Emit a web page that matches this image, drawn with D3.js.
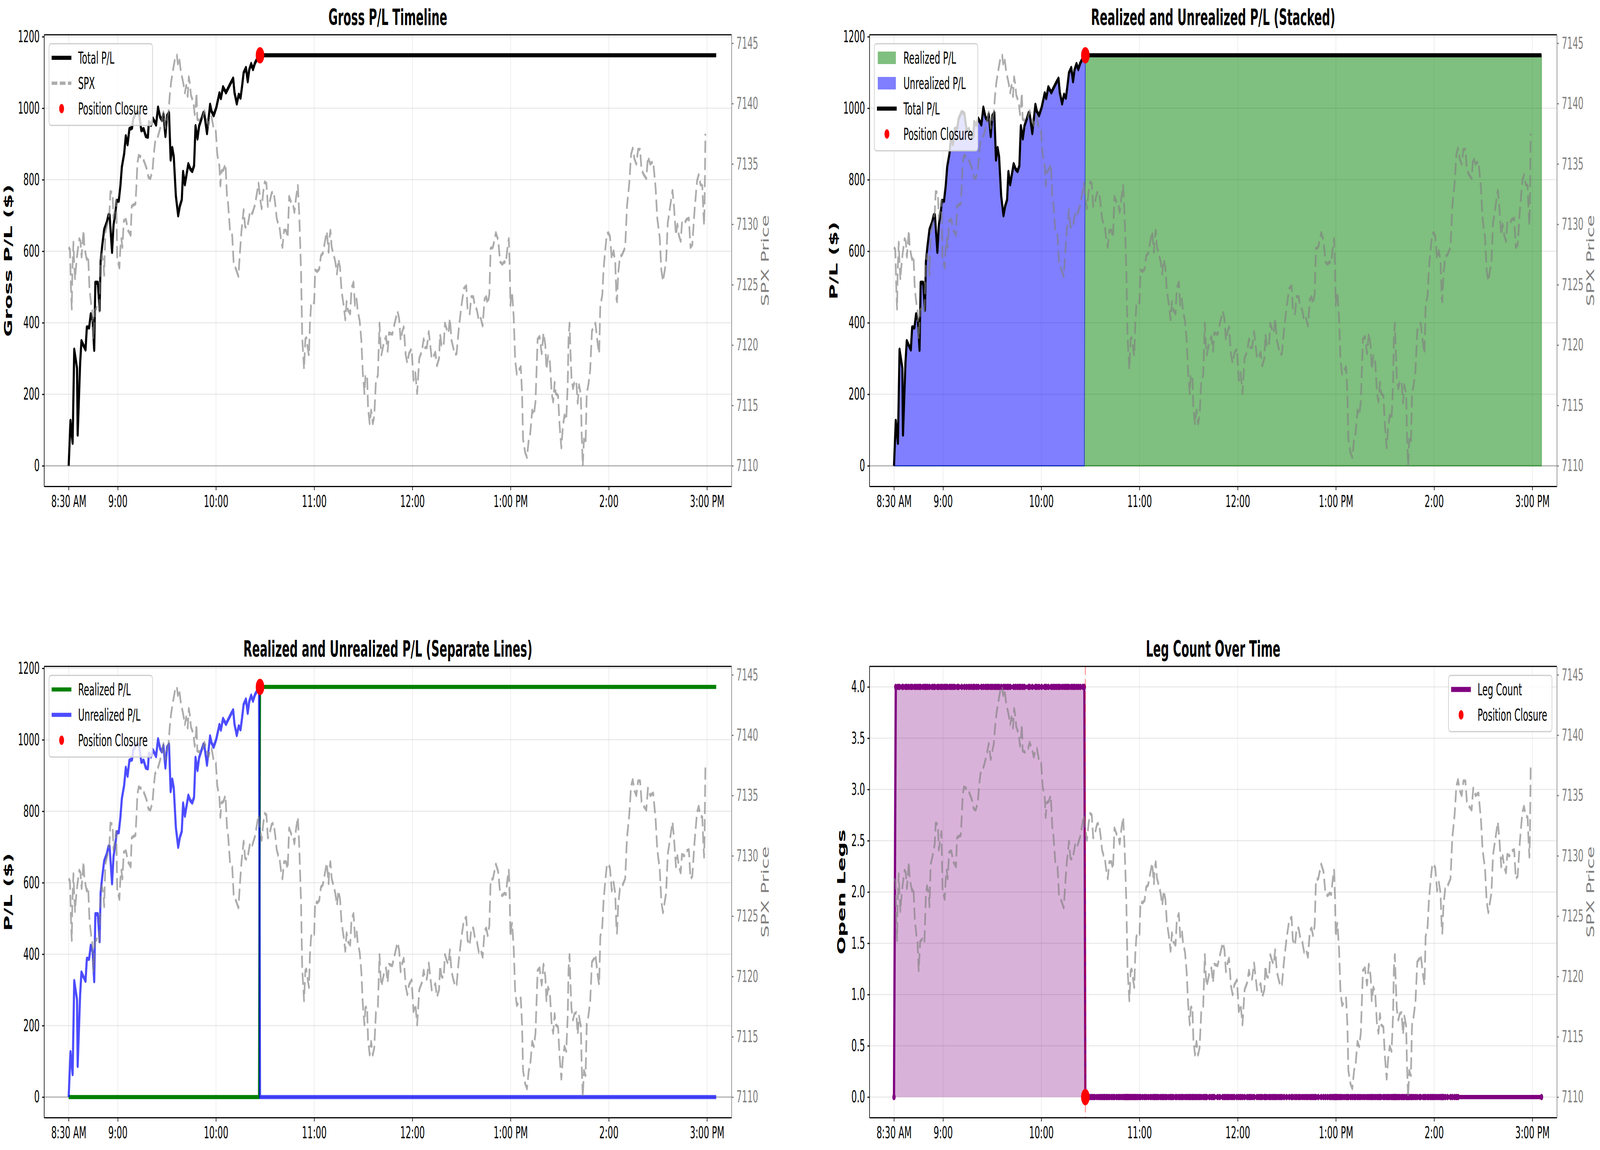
<!DOCTYPE html>
<html>
<head>
<meta charset="utf-8">
<script src="https://cdn.jsdelivr.net/npm/d3@7"></script>
<style>
  html, body { margin: 0; padding: 0; background: #fff; overflow: hidden; }
  svg { display: block; width: 100vw; height: 100vh; font-family: "DejaVu Sans", sans-serif; }
</style>
</head>
<body>
<svg id="chart" viewBox="0 0 7869 2944" preserveAspectRatio="none"></svg>
<script>
// all times are minutes after 8:30 AM
const tickMinutes = [0, 30, 90, 150, 210, 270, 330, 390];
const tickLabels = ["8:30 AM", "9:00", "10:00", "11:00", "12:00", "1:00 PM", "2:00", "3:00 PM"];
const plTicks = [0, 200, 400, 600, 800, 1000, 1200];
const spxTicks = [7110, 7115, 7120, 7125, 7130, 7135, 7140, 7145];
const legTicks = [0, 0.5, 1, 1.5, 2, 2.5, 3, 3.5, 4];

// P/L while the position is open
const openTimes = [0, 1.1, 2.4, 3.4, 5.1, 5.5, 7.0, 7.8, 9.0, 10.3,
  11.1, 12.5, 13.5, 14.6, 15.6, 16.3, 17.8, 18.9, 19.5, 20.5,
  21.7, 23.3, 24.3, 25.0, 26.5, 27.4, 28.7, 29.3, 30.6, 31.6,
  32.5, 33.9, 34.9, 36.0, 37.1, 38.7, 39.5, 41.4, 43.0, 44.4,
  45.8, 47.1, 48.4, 49.0, 50.3, 51.5, 53.4, 54.6, 55.9, 56.9,
  57.9, 59.1, 60.1, 61.3, 62.3, 63.3, 64.2, 65.5, 66.9, 67.9,
  69.1, 69.9, 71.0, 73.1, 74.3, 75.5, 76.6, 77.5, 78.7, 79.7,
  82.3, 82.9, 84.5, 86.4, 87.3, 88.6, 90.2, 92.1, 93.0, 94.3,
  96.1, 97.2, 98.3, 99.4, 100.5, 101.3, 102.7, 103.9, 105.0, 105.9,
  106.9, 108.3, 109.4, 110.3, 111.5, 112.6, 113.8, 115.4, 116.3];
const openTotals = [0, 126, 64, 325, 273, 87, 287, 349, 337, 325,
  387, 387, 424, 408, 324, 512, 512, 436, 571, 616,
  661, 681, 701, 701, 598, 673, 714, 741, 741, 783,
  836, 873, 922, 899, 942, 945, 971, 990, 985, 938,
  942, 922, 920, 962, 953, 971, 954, 1002, 975, 967,
  983, 922, 979, 987, 856, 889, 865, 754, 700, 726,
  744, 822, 787, 844, 830, 824, 839, 950, 915, 950,
  987, 983, 930, 1010, 991, 980, 1002, 1042, 1028, 1059,
  1044, 1054, 1064, 1074, 1083, 1044, 1013, 1038, 1029, 1060,
  1099, 1113, 1075, 1107, 1124, 1109, 1126, 1140, 1146];

const closeTime = 116.9;     // 10:27
const closedPL = 1148;
const denseEnd = 345;        // samples stop being dense around 2:15
const lastTime = 395.6;      // final sample, 3:05
const legsBeforeEntry = 0, legsHeld = 4, legsAfterClose = 0;

// SPX price
const spxTimes = [0, 0.8, 1.5, 1.9, 2.2, 2.9, 3.4, 3.9, 4.3, 5.3,
  6.5, 7.2, 7.9, 8.4, 9.1, 9.6, 11.0, 11.9, 12.7, 13.8,
  14.4, 15.1, 16.0, 17.3, 18.6, 19.5, 20.2, 21.2, 21.7, 22.4,
  23.6, 24.9, 25.5, 26.8, 27.4, 28.4, 29.0, 29.7, 30.3, 31.0,
  31.6, 32.2, 32.8, 33.7, 35.0, 36.3, 37.9, 38.5, 39.5, 40.8,
  41.4, 42.0, 42.8, 45.2, 46.4, 47.7, 48.7, 49.9, 51.2, 52.0,
  52.8, 54.1, 55.0, 56.0, 56.9, 57.9, 59.1, 60.1, 61.0, 61.7,
  62.6, 63.9, 65.1, 66.1, 66.7, 67.5, 68.6, 69.9, 71.0, 71.8,
  72.7, 73.4, 74.0, 74.7, 76.2, 77.0, 77.6, 78.1, 78.6, 80.0,
  81.9, 82.9, 84.2, 85.4, 86.4, 87.3, 88.6, 89.9, 90.8, 92.1,
  92.7, 93.3, 94.5, 95.8, 96.7, 97.4, 98.6, 99.9, 100.8, 102.4,
  103.7, 104.6, 105.6, 106.9, 107.8, 109.1, 110.9, 112.2, 113.8, 116.0,
  117.0, 117.9, 118.9, 119.8, 120.8, 121.7, 122.7, 124.0, 125.2, 126.2,
  127.1, 128.1, 128.7, 129.7, 130.6, 131.6, 132.8, 133.8, 134.7, 136.0,
  137.0, 137.9, 138.9, 140.0, 140.8, 141.4, 142.0, 142.3, 142.7, 143.2,
  143.8, 144.6, 145.2, 146.1, 146.8, 147.4, 148.1, 149.0, 150.0, 150.6,
  151.9, 153.1, 154.1, 155.3, 156.6, 157.7, 158.8, 159.1, 159.9, 160.7,
  161.7, 162.9, 163.9, 164.8, 165.8, 166.7, 168.0, 169.0, 169.8, 170.6,
  172.0, 172.8, 174.0, 174.9, 175.9, 176.6, 177.8, 178.8, 179.7, 180.7,
  181.3, 182.3, 182.9, 183.9, 184.8, 185.8, 186.7, 187.7, 188.9, 189.9,
  190.5, 191.1, 192.7, 193.9, 194.9, 195.7, 197.7, 199.0, 200.9, 201.9,
  202.8, 203.8, 204.7, 205.9, 206.9, 207.9, 209.5, 210.7, 211.8, 212.9,
  214.2, 215.8, 216.9, 217.7, 218.8, 220.0, 221.8, 223.0, 224.0, 225.0,
  226.3, 226.9, 227.8, 229.1, 229.9, 231.0, 232.0, 232.9, 233.9, 235.1,
  236.1, 237.0, 238.3, 239.9, 241.5, 242.9, 243.7, 245.0, 246.0, 247.2,
  248.1, 249.4, 250.6, 251.8, 252.9, 254.1, 255.1, 256.0, 257.0, 257.8,
  259.2, 261.0, 262.4, 263.6, 264.9, 266.2, 267.1, 268.1, 268.9, 269.4,
  269.9, 270.3, 270.9, 271.9, 272.8, 273.8, 275.0, 276.2, 277.0, 277.6,
  278.9, 280.0, 281.1, 282.0, 283.2, 284.2, 285.2, 286.5, 287.7, 289.0,
  290.1, 291.2, 291.9, 292.9, 294.0, 295.1, 296.0, 296.9, 297.6, 299.0,
  299.9, 301.0, 301.9, 302.9, 304.0, 304.9, 305.4, 306.0, 306.5, 307.2,
  308.1, 309.0, 310.1, 311.0, 311.8, 312.9, 313.4, 314.1, 314.8, 315.8,
  316.5, 317.5, 318.6, 319.7, 321.1, 321.8, 323.3, 324.1, 324.8, 326.0,
  326.8, 327.9, 328.8, 329.7, 330.7, 331.8, 332.9, 333.9, 334.7, 335.0,
  335.7, 336.8, 338.2, 340.0, 341.1, 342.5, 343.6, 344.6, 345.7, 346.8,
  347.9, 349.1, 350.0, 351.4, 352.9, 353.9, 355.3, 357.1, 358.6, 359.6,
  361.1, 362.1, 363.1, 365.0, 366.0, 367.5, 368.9, 369.8, 371.0, 371.9,
  372.8, 373.9, 374.7, 376.0, 377.4, 378.9, 379.9, 381.0, 382.4, 383.9,
  384.9, 386.0, 387.1, 387.8, 388.2, 388.5, 389.0];
const spxPrices = [7128.1, 7127.9, 7124.2, 7123.0, 7125.9, 7128.5, 7126.7, 7125.4, 7126.2, 7127.6,
  7128.8, 7128.6, 7127.3, 7128.3, 7129.5, 7128.1, 7127.1, 7127.4, 7124.7, 7123.3,
  7122.8, 7120.5, 7122.9, 7123.1, 7122.8, 7126.9, 7127.5, 7126.9, 7125.8, 7129.3,
  7130.0, 7131.0, 7132.7, 7132.6, 7130.5, 7131.5, 7132.0, 7126.9, 7126.8, 7126.4,
  7128.1, 7128.8, 7128.1, 7130.3, 7130.4, 7129.5, 7129.1, 7131.5, 7131.6, 7131.7,
  7133.2, 7135.1, 7135.7, 7135.5, 7135.1, 7134.6, 7133.9, 7133.8, 7134.4, 7135.8,
  7136.8, 7137.1, 7137.5, 7138.0, 7138.6, 7139.3, 7138.0, 7138.7, 7139.3, 7140.6,
  7141.8, 7142.9, 7143.8, 7144.0, 7143.3, 7143.8, 7142.6, 7141.8, 7140.9, 7141.5,
  7140.6, 7142.2, 7141.7, 7140.7, 7140.1, 7139.1, 7139.8, 7140.9, 7138.7, 7138.6,
  7138.9, 7139.4, 7138.9, 7138.2, 7138.7, 7138.9, 7137.9, 7137.7, 7135.8, 7134.8,
  7133.2, 7134.4, 7134.5, 7135.0, 7132.4, 7131.7, 7129.4, 7129.1, 7126.8, 7126.2,
  7125.7, 7127.6, 7129.5, 7131.2, 7129.8, 7129.7, 7131.1, 7130.9, 7131.6, 7133.4,
  7132.1, 7131.3, 7132.7, 7133.5, 7133.4, 7131.5, 7131.8, 7132.6, 7132.7, 7131.7,
  7130.5, 7130.0, 7129.9, 7128.8, 7128.1, 7129.5, 7129.5, 7128.9, 7132.3, 7131.8,
  7131.7, 7131.0, 7132.2, 7133.2, 7131.0, 7128.6, 7125.9, 7123.5, 7120.6, 7119.4,
  7118.0, 7120.5, 7120.6, 7119.7, 7119.1, 7121.8, 7123.3, 7123.6, 7123.5, 7126.2,
  7126.1, 7126.3, 7127.4, 7127.6, 7128.6, 7129.4, 7127.7, 7128.6, 7129.5, 7128.1,
  7127.6, 7126.9, 7125.9, 7127.1, 7126.4, 7124.5, 7123.3, 7122.1, 7123.6, 7122.9,
  7122.6, 7124.7, 7125.2, 7123.3, 7123.8, 7122.8, 7122.0, 7120.4, 7117.7, 7116.0,
  7117.4, 7117.5, 7114.8, 7113.5, 7114.6, 7113.5, 7114.1, 7117.0, 7117.5, 7121.8,
  7120.1, 7119.2, 7120.3, 7120.7, 7119.5, 7121.0, 7120.9, 7121.7, 7122.8, 7122.2,
  7120.4, 7121.1, 7121.5, 7119.2, 7118.5, 7119.3, 7119.7, 7117.1, 7117.7, 7116.0,
  7118.9, 7119.5, 7120.5, 7119.8, 7119.8, 7121.1, 7118.9, 7119.1, 7119.4, 7118.3,
  7118.9, 7120.9, 7120.0, 7119.9, 7121.8, 7121.3, 7121.0, 7122.2, 7120.4, 7119.7,
  7119.2, 7119.3, 7121.3, 7123.2, 7124.7, 7124.9, 7123.0, 7122.6, 7124.0, 7124.0,
  7123.3, 7122.9, 7122.0, 7122.2, 7121.6, 7123.8, 7124.0, 7123.4, 7124.2, 7128.0,
  7128.1, 7129.3, 7128.7, 7126.9, 7126.7, 7126.9, 7126.8, 7128.1, 7128.8, 7126.7,
  7123.3, 7124.0, 7124.4, 7122.3, 7118.7, 7117.6, 7117.9, 7118.2, 7116.0, 7112.2,
  7111.1, 7110.7, 7112.2, 7112.7, 7114.6, 7114.2, 7115.3, 7120.5, 7120.7, 7119.3,
  7121.0, 7120.0, 7118.0, 7119.1, 7118.6, 7116.0, 7115.3, 7116.9, 7116.0, 7115.8,
  7113.4, 7111.5, 7113.2, 7114.2, 7113.8, 7116.8, 7120.6, 7121.8, 7119.7, 7117.3,
  7116.4, 7116.9, 7117.0, 7115.2, 7116.7, 7115.9, 7112.7, 7110.0, 7112.2, 7111.8,
  7116.0, 7116.7, 7117.9, 7121.2, 7121.5, 7121.8, 7120.0, 7119.3, 7123.3, 7124.1,
  7126.3, 7128.0, 7129.2, 7129.3, 7129.0, 7127.1, 7127.8, 7126.9, 7123.8, 7123.6,
  7125.9, 7127.3, 7127.5, 7128.1, 7131.5, 7133.4, 7135.8, 7136.3, 7135.4, 7135.0,
  7136.2, 7136.2, 7134.5, 7134.1, 7133.8, 7135.6, 7135.0, 7135.2, 7133.0, 7130.5,
  7128.9, 7126.2, 7125.3, 7126.9, 7130.1, 7131.5, 7132.8, 7131.5, 7129.1, 7130.0,
  7129.1, 7128.6, 7130.1, 7130.0, 7130.4, 7130.5, 7128.1, 7128.3, 7131.2, 7133.6,
  7134.1, 7133.3, 7133.2, 7130.9, 7129.9, 7131.5, 7137.5];

// one record per P/L sample
const postTimes = spxTimes.filter(t => t > closeTime && t <= denseEnd).concat([lastTime]);
const samples = openTimes.map((t, i) => ({
    t, total: openTotals[i], realized: 0, unrealized: openTotals[i],
    legs: i === 0 ? legsBeforeEntry : legsHeld
  }))
  .concat([closeTime].concat(postTimes).map(t => ({
    t, total: closedPL, realized: closedPL, unrealized: 0, legs: legsAfterClose
  })));

const svg = d3.select("#chart");
svg.append("rect").attr("width", 7869).attr("height", 2944).attr("fill", "#fff");

const xDomain = [-15, 405];   // 8:15 to 3:15
const FONT = "DejaVu Sans";

function pad(ext) {
  const m = (ext[1] - ext[0]) * 0.05;
  return [ext[0] - m, ext[1] + m];
}

function makePanel(p, yDomain, yTicks) {
  const xs = d3.scaleLinear().domain(xDomain).range([p.x0, p.x1]);
  const ys = d3.scaleLinear().domain(yDomain).range([p.y1, p.y0]);
  const sy = d3.scaleLinear().domain(pad(d3.extent(spxPrices))).range([p.y1, p.y0]);
  const g = svg.append("g");
  const grid = g.append("g")
    .attr("stroke", "#b0b0b0").attr("stroke-opacity", 0.3).attr("stroke-width", 2.5);
  grid.selectAll(".gx").data(tickMinutes).join("line").attr("class", "gx")
    .attr("x1", d => xs(d)).attr("x2", d => xs(d)).attr("y1", p.y0).attr("y2", p.y1);
  grid.selectAll(".gy").data(yTicks).join("line").attr("class", "gy")
    .attr("x1", p.x0).attr("x2", p.x1).attr("y1", d => ys(d)).attr("y2", d => ys(d));
  return { p, xs, ys, sy, g, yTicks };
}

function zeroLine(P) {
  P.g.append("line")
    .attr("x1", P.p.x0).attr("x2", P.p.x1)
    .attr("y1", P.ys(0)).attr("y2", P.ys(0))
    .attr("stroke", "#000").attr("stroke-opacity", 0.2).attr("stroke-width", 4);
}

function drawSpx(P) {
  const line = d3.line().x((d, i) => P.xs(spxTimes[i])).y(d => P.sy(d));
  P.g.append("path").datum(spxPrices)
    .attr("d", line).attr("fill", "none")
    .attr("stroke", "#808080").attr("stroke-opacity", 0.65).attr("stroke-width", 8.3)
    .attr("stroke-dasharray", "31,13").attr("stroke-linejoin", "round");
}

function closureDot(P, yVal) {
  P.g.append("circle")
    .attr("cx", P.xs(closeTime)).attr("cy", P.ys(yVal)).attr("r", 21)
    .attr("fill", "red");
}

function drawAxes(P, title, ylabel, yFmt, ylabelGap) {
  const { p, xs, ys, sy } = P;
  const g = svg.append("g");
  g.append("line").attr("x1", p.x0).attr("x2", p.x1).attr("y1", p.y0).attr("y2", p.y0)
    .attr("stroke", "#000").attr("stroke-width", 3);

  const ax = g.append("g").attr("transform", `translate(0,${p.y1})`)
    .call(d3.axisBottom(xs).tickValues(tickMinutes).tickFormat((d, i) => tickLabels[i])
      .tickSizeInner(10).tickSizeOuter(0).tickPadding(13));
  const ay = g.append("g").attr("transform", `translate(${p.x0},0)`)
    .call(d3.axisLeft(ys).tickValues(P.yTicks).tickFormat(yFmt)
      .tickSizeInner(10).tickSizeOuter(0).tickPadding(12));
  const ar = g.append("g").attr("transform", `translate(${p.x1},0)`)
    .call(d3.axisRight(sy).tickValues(spxTicks).tickFormat(d3.format("d"))
      .tickSizeInner(10).tickSizeOuter(0).tickPadding(14));

  [ax, ay, ar].forEach(a => a.attr("font-size", 42).attr("font-family", FONT));
  [ax, ay].forEach(a => {
    a.select(".domain").attr("stroke", "#000").attr("stroke-width", 3);
    a.selectAll(".tick line").attr("stroke", "#000").attr("stroke-width", 3);
    a.selectAll(".tick text").attr("fill", "#000");
  });
  ar.select(".domain").attr("stroke", "#808080").attr("stroke-width", 3);
  ar.selectAll(".tick line").attr("stroke", "#808080").attr("stroke-width", 3);
  ar.selectAll(".tick text").attr("fill", "#808080");

  const cy = (p.y0 + p.y1) / 2;
  g.append("text")
    .attr("transform", `translate(${p.x0 - ylabelGap},${cy}) rotate(-90)`)
    .attr("text-anchor", "middle").attr("font-family", FONT)
    .attr("font-weight", "bold").attr("font-size", 54).text(ylabel);
  g.append("text")
    .attr("transform", `translate(${p.x1 + 183},${cy}) rotate(-90)`)
    .attr("text-anchor", "middle").attr("font-family", FONT)
    .attr("font-size", 50).attr("fill", "#808080").text("SPX Price");
  g.append("text")
    .attr("x", (p.x0 + p.x1) / 2).attr("y", p.y0 - 25)
    .attr("text-anchor", "middle").attr("font-family", FONT)
    .attr("font-weight", "bold").attr("font-size", 56).text(title);
}

function legend(P, items, side) {
  const p = P.p, rowH = 65, fs = 43;
  const g = svg.append("g");
  const box = g.append("rect");
  const labels = items.map(it => g.append("text")
    .attr("font-family", FONT).attr("font-size", fs).text(it.label));
  const maxW = d3.max(labels, t => t.node().getComputedTextLength());
  const w = 143 + maxW + 24;
  const h = 36 + rowH * (items.length - 1) + 43;
  const bx = side === "left" ? p.x0 + 24 : p.x1 - 24 - w;
  const by = p.y0 + 23;
  box.attr("x", bx).attr("y", by).attr("width", w).attr("height", h).attr("rx", 10)
    .attr("fill", "#fff").attr("fill-opacity", 0.8)
    .attr("stroke", "#cccccc").attr("stroke-width", 3);

  items.forEach((it, i) => {
    const cy = by + 36 + i * rowH;
    labels[i].attr("x", bx + 143).attr("y", cy + fs * 0.36);
    if (it.kind === "line") {
      g.append("line").attr("x1", bx + 13).attr("x2", bx + 110).attr("y1", cy).attr("y2", cy)
        .attr("stroke", it.color).attr("stroke-width", it.width)
        .attr("stroke-opacity", it.opacity || 1)
        .attr("stroke-dasharray", it.dash || null);
    } else if (it.kind === "patch") {
      g.append("rect").attr("x", bx + 17).attr("y", cy - 16).attr("width", 89).attr("height", 32)
        .attr("fill", it.color).attr("fill-opacity", it.opacity);
    } else {
      g.append("circle").attr("cx", bx + 62).attr("cy", cy).attr("r", 12).attr("fill", it.color);
    }
  });
}

const plDomain = pad([0, d3.max(samples, d => d.total)]);
const legDomain = pad(d3.extent(samples, d => d.legs));

const spxItem = { kind: "line", label: "SPX", color: "#808080", width: 8.3, opacity: 0.65, dash: "28,12" };
const closeItem = { kind: "dot", label: "Position Closure", color: "red" };
const totalItem = { kind: "line", label: "Total P/L", color: "#000", width: 10.4 };

// ---- Gross P/L Timeline ----
const G = makePanel({ x0: 217, x1: 3598, y0: 89, y1: 1245 }, plDomain, plTicks);
zeroLine(G);
G.g.append("path").datum(samples)
  .attr("d", d3.line().x(d => G.xs(d.t)).y(d => G.ys(d.total)))
  .attr("fill", "none").attr("stroke", "#000").attr("stroke-width", 10.4)
  .attr("stroke-linejoin", "round");
closureDot(G, closedPL);
drawSpx(G);
drawAxes(G, "Gross P/L Timeline", "Gross P/L ($)", d3.format("d"), 158);
legend(G, [totalItem, spxItem, closeItem], "left");

// ---- Stacked ----
const S = makePanel({ x0: 4276, x1: 7657, y0: 89, y1: 1245 }, plDomain, plTicks);
zeroLine(S);
S.g.append("path").datum(samples)
  .attr("d", d3.area().x(d => S.xs(d.t)).y0(S.ys(0)).y1(d => S.ys(d.realized)))
  .attr("fill", "green").attr("fill-opacity", 0.5)
  .attr("stroke", "green").attr("stroke-opacity", 0.5).attr("stroke-width", 3);
S.g.append("path").datum(samples)
  .attr("d", d3.area().x(d => S.xs(d.t)).y0(d => S.ys(d.realized)).y1(d => S.ys(d.realized + d.unrealized)))
  .attr("fill", "blue").attr("fill-opacity", 0.5)
  .attr("stroke", "blue").attr("stroke-opacity", 0.5).attr("stroke-width", 3);
S.g.append("path").datum(samples)
  .attr("d", d3.line().x(d => S.xs(d.t)).y(d => S.ys(d.total)))
  .attr("fill", "none").attr("stroke", "#000").attr("stroke-width", 10.4)
  .attr("stroke-linejoin", "round");
closureDot(S, closedPL);
drawSpx(S);
drawAxes(S, "Realized and Unrealized P/L (Stacked)", "P/L ($)", d3.format("d"), 158);
legend(S, [
  { kind: "patch", label: "Realized P/L", color: "green", opacity: 0.5 },
  { kind: "patch", label: "Unrealized P/L", color: "blue", opacity: 0.5 },
  totalItem, closeItem
], "left");

// ---- Separate lines ----
const B = makePanel({ x0: 217, x1: 3598, y0: 1706, y1: 2861 }, plDomain, plTicks);
zeroLine(B);
B.g.append("path").datum(samples)
  .attr("d", d3.line().x(d => B.xs(d.t)).y(d => B.ys(d.realized)))
  .attr("fill", "none").attr("stroke", "green").attr("stroke-width", 10.4)
  .attr("stroke-linejoin", "round");
B.g.append("path").datum(samples)
  .attr("d", d3.line().x(d => B.xs(d.t)).y(d => B.ys(d.unrealized)))
  .attr("fill", "none").attr("stroke", "blue").attr("stroke-opacity", 0.7).attr("stroke-width", 10.4)
  .attr("stroke-linejoin", "round");
closureDot(B, closedPL);
drawSpx(B);
drawAxes(B, "Realized and Unrealized P/L (Separate Lines)", "P/L ($)", d3.format("d"), 158);
legend(B, [
  { kind: "line", label: "Realized P/L", color: "green", width: 10.4 },
  { kind: "line", label: "Unrealized P/L", color: "blue", width: 10.4, opacity: 0.7 },
  closeItem
], "left");

// ---- Leg count ----
const L = makePanel({ x0: 4276, x1: 7657, y0: 1706, y1: 2861 }, legDomain, legTicks);
L.g.append("path").datum(samples)
  .attr("d", d3.area().x(d => L.xs(d.t)).y0(L.ys(0)).y1(d => L.ys(d.legs)))
  .attr("fill", "purple").attr("fill-opacity", 0.3);
L.g.append("path").datum(samples)
  .attr("d", d3.line().x(d => L.xs(d.t)).y(d => L.ys(d.legs)))
  .attr("fill", "none").attr("stroke", "purple").attr("stroke-width", 11)
  .attr("stroke-linejoin", "round");
L.g.append("g").selectAll("circle").data(samples).join("circle")
  .attr("cx", d => L.xs(d.t)).attr("cy", d => L.ys(d.legs)).attr("r", 8.3)
  .attr("fill", "purple");
L.g.append("line")
  .attr("x1", L.xs(closeTime)).attr("x2", L.xs(closeTime))
  .attr("y1", L.p.y0).attr("y2", L.p.y1)
  .attr("stroke", "red").attr("stroke-opacity", 0.5).attr("stroke-width", 4)
  .attr("stroke-dasharray", "22,10");
closureDot(L, legsAfterClose);
drawSpx(L);
drawAxes(L, "Leg Count Over Time", "Open Legs", d3.format(".1f"), 118);
legend(L, [
  { kind: "line", label: "Leg Count", color: "purple", width: 13 },
  closeItem
], "right");
</script>
</body>
</html>
